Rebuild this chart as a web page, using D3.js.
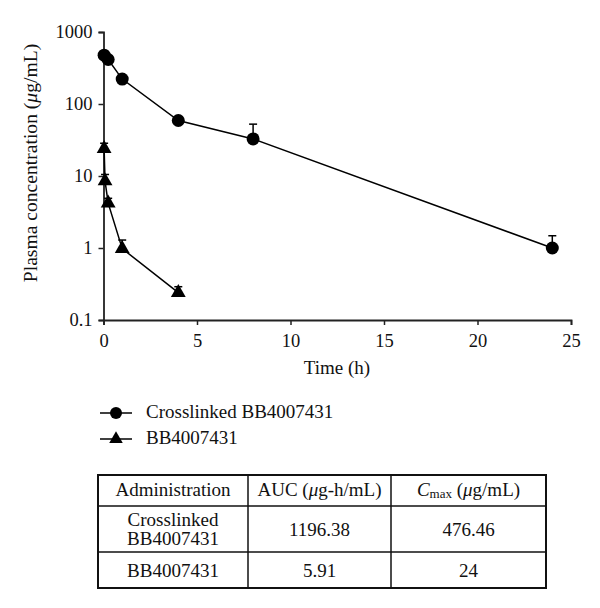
<!DOCTYPE html>
<html>
<head>
<meta charset="utf-8">
<script src="https://cdn.jsdelivr.net/npm/d3@7"></script>
<style>
  html, body { margin: 0; padding: 0; background: #fff; }
  svg { display: block; }
  text { font-family: "Liberation Serif", "DejaVu Serif", serif; fill: #111; }
</style>
</head>
<body>
<svg id="chart" width="600" height="608"></svg>
<script>
// ---- data ----
const crossTimes = [0.033, 0.25, 1, 4, 8, 24];
const crossValues = [476, 415, 222, 59, 32.7, 1.0];
const crossUpper = [490, 430, 235, 63, 52.5, 1.48];

const freeTimes = [0.033, 0.083, 0.25, 1, 4];
const freeValues = [24, 8.5, 4.2, 0.98, 0.24];
const freeUpper = [28.5, 10.5, 4.9, 1.29, 0.29];

const seriesNames = ["Crosslinked BB4007431", "BB4007431"];
const xTicks = [0, 5, 10, 15, 20, 25];
const yTicks = [0.1, 1, 10, 100, 1000];
const yTickLabels = ["0.1", "1", "10", "100", "1000"];

const tableHeader = ["Administration", "AUC", "Cmax"];
const tableRowNames = [["Crosslinked", "BB4007431"], ["BB4007431"]];
const aucValues = ["1196.38", "5.91"];
const cmaxValues = ["476.46", "24"];

// ---- layout ----
const svg = d3.select("#chart");
const FS = 19;
const x = d3.scaleLinear().domain([0, 25]).range([103.5, 571]);
const y = d3.scaleLog().domain([0.1, 1000]).range([320, 32]);
const axisColor = "#222";

// axes
const gx = svg.append("g").attr("transform", `translate(0,${y(0.1)})`)
  .call(d3.axisBottom(x).tickValues(xTicks).tickSize(5).tickPadding(4).tickFormat(d3.format("d")));
const gy = svg.append("g").attr("transform", `translate(${x(0)},0)`)
  .call(d3.axisLeft(y).tickValues(yTicks).tickSize(5).tickPadding(6).tickFormat((d, i) => yTickLabels[i]));
[gx, gy].forEach(g => {
  g.select(".domain").attr("stroke", axisColor).attr("stroke-width", 1.8);
  g.selectAll(".tick line").attr("stroke", axisColor).attr("stroke-width", 1.5);
  g.selectAll(".tick text").attr("font-family", "Liberation Serif").attr("font-size", 18.5).attr("fill", "#111");
});
gx.selectAll(".tick text").attr("dy", "0.95em");

// axis titles
svg.append("text").attr("x", 337).attr("y", 374).attr("text-anchor", "middle")
  .attr("font-size", FS).text("Time (h)");
const yt = svg.append("text").attr("transform", "translate(37,163) rotate(-90)")
  .attr("text-anchor", "middle").attr("font-size", 19.6);
yt.append("tspan").text("Plasma concentration (");
yt.append("tspan").attr("font-style", "italic").text("μ");
yt.append("tspan").text("g/mL)");

// series
const series = [
  { t: crossTimes, v: crossValues, u: crossUpper, sym: "circle" },
  { t: freeTimes, v: freeValues, u: freeUpper, sym: "triangle" }
];
const line = d3.line().x(d => x(d.t)).y(d => y(d.v));
const triPath = d3.symbol().type(d3.symbolTriangle).size(95)();

series.forEach(s => {
  const pts = s.t.map((t, i) => ({ t, v: s.v[i], u: s.u[i] }));
  const g = svg.append("g");
  // error bars (upper only)
  pts.forEach(p => {
    g.append("line").attr("x1", x(p.t)).attr("x2", x(p.t)).attr("y1", y(p.v)).attr("y2", y(p.u))
      .attr("stroke", "#000").attr("stroke-width", 1.5);
    g.append("line").attr("x1", x(p.t) - 4).attr("x2", x(p.t) + 4).attr("y1", y(p.u)).attr("y2", y(p.u))
      .attr("stroke", "#000").attr("stroke-width", 1.5);
  });
  g.append("path").datum(pts).attr("d", line).attr("fill", "none").attr("stroke", "#000").attr("stroke-width", 1.5);
  pts.forEach(p => {
    if (s.sym === "circle") {
      g.append("circle").attr("cx", x(p.t)).attr("cy", y(p.v)).attr("r", 6.5).attr("fill", "#000");
    } else {
      g.append("path").attr("d", triPath).attr("transform", `translate(${x(p.t)},${y(p.v)})`).attr("fill", "#000");
    }
  });
});

// legend
const legendY = [413, 439];
seriesNames.forEach((name, i) => {
  const g = svg.append("g");
  g.append("line").attr("x1", 100).attr("x2", 132).attr("y1", legendY[i]).attr("y2", legendY[i])
    .attr("stroke", "#000").attr("stroke-width", 1.5);
  if (i === 0) g.append("circle").attr("cx", 116).attr("cy", legendY[i]).attr("r", 6).attr("fill", "#000");
  else g.append("path").attr("d", d3.symbol().type(d3.symbolTriangle).size(80)()).attr("transform", `translate(116,${legendY[i]})`).attr("fill", "#000");
  g.append("text").attr("x", 146).attr("y", legendY[i] + 5).attr("font-size", FS).text(name);
});

// table
const tL = 98, tR = 546, colX = [tL, 248, 391, tR];
const rowY = [475, 506, 552, 588];
const tg = svg.append("g");
tg.append("rect").attr("x", tL).attr("y", rowY[0]).attr("width", tR - tL).attr("height", rowY[3] - rowY[0])
  .attr("fill", "none").attr("stroke", "#111").attr("stroke-width", 2);
[rowY[1], rowY[2]].forEach(yy => tg.append("line").attr("x1", tL).attr("x2", tR).attr("y1", yy).attr("y2", yy)
  .attr("stroke", "#111").attr("stroke-width", 1.5));
[colX[1], colX[2]].forEach(xx => tg.append("line").attr("x1", xx).attr("x2", xx).attr("y1", rowY[0]).attr("y2", rowY[3])
  .attr("stroke", "#111").attr("stroke-width", 1.5));
const cx = [0, 1, 2].map(i => (colX[i] + colX[i + 1]) / 2);
// header
tg.append("text").attr("x", cx[0]).attr("y", 496).attr("text-anchor", "middle").attr("font-size", FS).text(tableHeader[0]);
const h2 = tg.append("text").attr("x", cx[1]).attr("y", 496).attr("text-anchor", "middle").attr("font-size", FS);
h2.append("tspan").text(tableHeader[1] + " (");
h2.append("tspan").attr("font-style", "italic").text("μ");
h2.append("tspan").text("g-h/mL)");
const h3 = tg.append("text").attr("x", cx[2]).attr("y", 496).attr("text-anchor", "middle").attr("font-size", FS);
h3.append("tspan").attr("font-style", "italic").text("C");
h3.append("tspan").attr("font-size", 13).attr("dy", 2).text("max");
h3.append("tspan").attr("dy", -2).text(" (");
h3.append("tspan").attr("font-style", "italic").text("μ");
h3.append("tspan").text("g/mL)");
// rows
const r1 = tg.append("text").attr("text-anchor", "middle").attr("font-size", FS);
r1.append("tspan").attr("x", cx[0]).attr("y", 526).text(tableRowNames[0][0]);
r1.append("tspan").attr("x", cx[0]).attr("y", 545).text(tableRowNames[0][1]);
tg.append("text").attr("x", cx[1]).attr("y", 536).attr("text-anchor", "middle").attr("font-size", FS).text(aucValues[0]);
tg.append("text").attr("x", cx[2]).attr("y", 536).attr("text-anchor", "middle").attr("font-size", FS).text(cmaxValues[0]);
tg.append("text").attr("x", cx[0]).attr("y", 577).attr("text-anchor", "middle").attr("font-size", FS).text(tableRowNames[1][0]);
tg.append("text").attr("x", cx[1]).attr("y", 577).attr("text-anchor", "middle").attr("font-size", FS).text(aucValues[1]);
tg.append("text").attr("x", cx[2]).attr("y", 577).attr("text-anchor", "middle").attr("font-size", FS).text(cmaxValues[1]);
</script>
</body>
</html>
